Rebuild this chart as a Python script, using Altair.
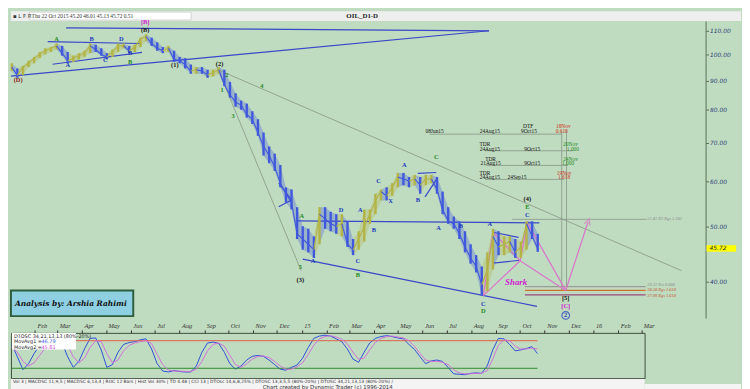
import altair as alt
import pandas as pd
import numpy as np

BG = "#c0dcc0"
BLUE = "#4058dc"
OLIVE = "#b2b446"
BLK = "#111111"
WBLUE = "#2038c0"
WGREEN = "#238a23"
DRED = "#8b1a1a"
MAG = "#d020d0"
RED = "#d03020"
GRAY = "#8c9c8c"
PINK = "#d878c8"

# ---------------- weekly price data (Fridays from 2014-01-03) ----------------
week_start = "2014-01-03"
close = [95, 92, 95, 96.5, 98.5, 100, 101.5, 102.5, 103.5, 100.5,
         97.5, 98.5, 99.5, 100.5, 103.5, 102, 100, 99, 101, 103.5,
         103.5, 101.5, 103, 106.5, 107.5, 104.5, 102.5, 101.5, 102.5, 98,
         97.5, 96, 93.5, 94, 93.5, 92, 93, 94, 88.5, 85,
         82.5, 81.5, 78.5, 77, 73, 69, 66.5, 63.5, 59.5, 57,
         55, 48.5, 47.5, 46.5, 45.5, 52.5, 51.5, 50.5, 50, 50.5,
         46.5, 45.5, 47.5, 50, 52.5, 55.5, 57.5, 56.5, 58.5, 61,
         60.5, 60, 60.5, 59, 60.5, 60.5, 58, 53.5, 51, 50.5,
         48.5, 46, 44, 42.5, 39.5, 42, 48, 46, 46.5, 47,
         45, 46, 50.5, 48, 45.72]
high = [96.5, 94.5, 95.5, 97.5, 99, 101, 102.5, 103, 104.5, 103.5,
        101, 99.5, 100.5, 101.5, 104.5, 104, 102.5, 100.5, 102, 104.5,
        104.5, 103.5, 104, 107, 108.5, 107, 105, 103, 103.5, 101.5,
        99, 98.5, 96, 95, 95, 94, 94, 95, 94, 89.5,
        85.5, 83, 82, 79.5, 77, 73, 69, 67, 64, 58.5,
        58, 54, 50, 49.5, 48, 54, 54, 53, 52.5, 52.5,
        51, 47.5, 49, 53.5, 53.5, 57, 58, 58.5, 59.5, 62,
        62, 61, 61.5, 61, 61.5, 61.5, 61, 57.5, 54, 52,
        51, 49, 46.5, 44.5, 42.5, 45, 49.5, 49, 48, 48,
        47.5, 47, 51, 51, 48.5]
low = [93.5, 91, 92, 95, 96.5, 98.5, 100, 101, 102, 99.5,
       96.5, 97, 98, 99, 100.5, 101, 99.5, 98, 99, 101,
       102.5, 100.5, 101, 103, 105.5, 103.5, 101.5, 100.5, 101, 97,
       96.5, 94.5, 92.5, 92.5, 92.5, 91, 91.5, 92.5, 88, 84,
       81, 80, 77.5, 75.5, 72, 66.5, 64.5, 62.5, 58.5, 55,
       53.5, 47.5, 45.5, 45, 44, 46.5, 49.5, 49, 48.5, 48,
       46, 44.5, 45.5, 47, 50.5, 52.5, 55.5, 55.5, 56.5, 58.5,
       59, 58.5, 59, 57, 59, 59.5, 57, 52.5, 50.5, 49.5,
       47.5, 45, 43, 41.5, 37.8, 38.5, 42, 44.5, 44.5, 45,
       44, 44, 45.5, 47.5, 45.1]
# DT oscillator 34,21,13,13: fast line and its moving average
osc_fast = [73, 45, 17, 30, 52, 70, 82, 88, 90, 75,
            45, 22, 35, 62, 85, 86, 60, 22, 28, 55,
            72, 76, 78, 82, 84, 62, 30, 14, 12, 15,
            13, 12, 12, 25, 55, 75, 77, 74, 55, 30,
            18, 25, 38, 46, 48, 46, 38, 28, 18, 16,
            22, 27, 42, 65, 85, 90, 92, 90, 84, 78,
            62, 40, 33, 55, 75, 85, 89, 91, 89, 86,
            84, 72, 61, 45, 30, 36, 38, 35, 22, 8,
            7, 6, 9, 10, 9, 25, 60, 85, 84, 72,
            58, 60, 63, 67, 52]
osc_slow = [65, 55, 35, 25, 32, 48, 65, 78, 85, 85,
            70, 45, 32, 42, 65, 80, 78, 52, 32, 38,
            58, 70, 75, 78, 80, 74, 50, 28, 16, 14,
            14, 13, 13, 18, 35, 58, 72, 75, 68, 48,
            28, 22, 30, 40, 46, 47, 43, 35, 25, 18,
            18, 23, 32, 50, 70, 84, 89, 91, 88, 83,
            73, 55, 40, 42, 60, 76, 85, 89, 90, 88,
            86, 80, 68, 52, 38, 35, 35, 33, 28, 17,
            10, 8, 8, 9, 9, 15, 40, 70, 82, 80,
            68, 62, 62, 64, 62]

dates = pd.date_range(week_start, periods=len(close), freq="7D")
bars = pd.DataFrame({"date": dates, "close": close, "high": high, "low": low,
                     "fast": osc_fast, "slow": osc_slow})
bars["dir"] = np.where(bars["close"].diff().fillna(0) >= 0, "up", "down")
bars["run"] = (bars["dir"] != bars["dir"].shift()).cumsum()
# join consecutive runs so that the coloured band is continuous
pieces = []
for r, g in bars.groupby("run"):
    i0 = g.index[0]
    if i0 > 0:
        prev = bars.loc[[i0 - 1]].copy()
        prev["run"] = r
        prev["dir"] = g["dir"].iloc[0]
        g = pd.concat([prev, g])
    pieces.append(g)
band = pd.concat(pieces, ignore_index=True)

# ---------------- trend lines ----------------
blue_lines = [
    ("L1", "2014-01-02", 91.6), ("L1", "2015-08-23", 110.0),
    ("L2", "2014-03-12", 111.3), ("L2", "2015-08-23", 110.0),
    ("L3", "2014-02-17", 105.3), ("L3", "2014-06-12", 104.5),
    ("L4", "2014-02-23", 96.1), ("L4", "2014-06-15", 100.8),
    ("L5", "2014-12-24", 51.1), ("L5", "2015-10-25", 50.7),
    ("L6", "2015-01-02", 43.8), ("L6", "2015-10-22", 36.2),
    ("L7", "2014-12-03", 59.5), ("L7", "2014-12-19", 55.6),
    ("L8", "2014-12-03", 54.1), ("L8", "2014-12-19", 55.6),
    ("L9", "2015-05-26", 61.9), ("L9", "2015-06-18", 62.1),
    ("L10", "2015-06-04", 56.3), ("L10", "2015-06-19", 60.6),
    ("L11", "2015-08-28", 48.8), ("L11", "2015-09-29", 47.8),
    ("L12", "2015-08-28", 43.1), ("L12", "2015-10-01", 43.6),
]
gray_lines = [
    ("G1", "2014-09-17", 95.0), ("G1", "2014-12-31", 41.8),
    ("G2", "2014-09-18", 94.0), ("G2", "2016-04-20", 41.8),
    ("G3", "2015-09-21", 51.42), ("G3", "2016-03-07", 51.42),
    ("G4", "2015-11-22", 73.4), ("G4", "2015-11-22", 38.6),
    ("G5", "2015-11-28", 73.4), ("G5", "2015-11-28", 38.6),
    ("G6", "2015-06-10", 72.5), ("G6", "2015-11-22", 72.5),
    ("G7", "2015-08-18", 67.8), ("G7", "2015-12-06", 67.8),
    ("G8", "2015-08-19", 63.9), ("G8", "2015-11-30", 63.9),
    ("G9", "2015-08-18", 60.4), ("G9", "2015-11-25", 60.4),
]
level_lines = [
    ("V1", "2015-10-07", 39.2, "#9a9a9a"), ("V1", "2016-03-06", 39.2, "#9a9a9a"),
    ("V2", "2015-10-07", 38.6, "#d07030"), ("V2", "2016-03-06", 38.6, "#d07030"),
    ("V3", "2015-10-07", 37.9, "#9a4a7a"), ("V3", "2016-03-06", 37.9, "#9a4a7a"),
]
# shark projection X-A-B-C-D and target
shark_pts = {"X": ("2015-08-16", 37.8), "A": ("2015-08-28", 48.8),
             "B": ("2015-10-01", 43.5), "C": ("2015-10-10", 50.7),
             "D": ("2015-11-27", 38.6), "E": ("2015-12-25", 50.9)}
shark_segs = [("X", "A"), ("A", "B"), ("B", "C"), ("C", "D"), ("X", "B"), ("B", "D"), ("D", "E")]

# ---------------- labels ----------------
wave_labels = [
    ("(D)", "2014-01-11", 90.2, DRED), ("A", "2014-02-28", 106.6, WGREEN),
    ("A", "2014-03-14", 95.7, WBLUE), ("B", "2014-04-13", 106.6, WBLUE),
    ("C", "2014-04-30", 97.6, WBLUE), ("D", "2014-05-20", 106.6, WBLUE),
    ("B", "2014-05-31", 100.5, WBLUE), ("B", "2014-05-31", 97.0, WGREEN),
    ("(B)", "2014-06-19", 110.4, BLK), ("[B]", "2014-06-19", 114.0, MAG),
    ("(1)", "2014-07-26", 95.7, BLK), ("(2)", "2014-09-20", 96.3, BLK),
    ("2", "2014-09-29", 92.0, WGREEN), ("1", "2014-09-23", 86.7, WGREEN),
    ("3", "2014-10-07", 77.9, WGREEN), ("4", "2014-11-12", 88.1, WGREEN),
    ("5", "2014-12-30", 42.4, WGREEN), ("(3)", "2014-12-30", 40.3, BLK),
    ("A", "2015-01-01", 52.2, WGREEN), ("A", "2015-01-15", 43.4, WBLUE),
    ("D", "2015-02-19", 53.4, WBLUE), ("A", "2015-03-15", 53.4, WBLUE),
    ("C", "2015-03-12", 43.5, WBLUE), ("B", "2015-03-12", 41.1, WGREEN),
    ("B", "2015-04-01", 49.3, WBLUE), ("C", "2015-04-07", 59.9, WBLUE),
    ("X", "2015-04-22", 55.4, WBLUE), ("A", "2015-05-09", 63.9, WBLUE),
    ("B", "2015-05-26", 55.6, WBLUE), ("C", "2015-06-18", 66.2, WGREEN),
    ("A", "2015-06-21", 49.7, WBLUE), ("B", "2015-07-19", 50.1, WBLUE),
    ("A", "2015-08-24", 50.4, WBLUE), ("C", "2015-08-16", 36.6, WBLUE),
    ("D", "2015-08-16", 35.5, WGREEN), ("(4)", "2015-10-10", 55.8, BLK),
    ("E", "2015-10-10", 54.1, WGREEN), ("C", "2015-10-10", 52.4, WBLUE),
    ("[5]", "2015-11-27", 37.4, BLK), ("[C]", "2015-11-27", 36.2, MAG),
    ("2", "2015-11-27", 34.9, WBLUE),
]
cycle_labels = [
    ("DTF", "2015-10-11", 74.9, BLK), ("18Nov", "2015-11-24", 74.9, RED),
    ("08Jun15", "2015-06-16", 73.4, BLK), ("24Aug15", "2015-08-24", 73.4, BLK),
    ("9Oct15", "2015-10-12", 73.4, BLK), ("0.618", "2015-11-22", 73.4, RED),
    ("TDR", "2015-08-18", 69.7, BLK), ("20Nov", "2015-12-03", 69.7, WGREEN),
    ("24Aug15", "2015-08-24", 68.3, BLK), ("9Oct15", "2015-10-16", 68.3, BLK),
    ("1.000", "2015-12-06", 68.3, WGREEN),
    ("TDR", "2015-08-25", 65.7, BLK), ("24Nov", "2015-12-03", 65.7, WGREEN),
    ("21Aug15", "2015-08-25", 64.4, BLK), ("9Oct15", "2015-10-16", 64.4, BLK),
    ("1.000", "2015-11-30", 64.4, WGREEN),
    ("TDR", "2015-08-18", 62.1, BLK), ("19Nov", "2015-11-25", 62.1, RED),
    ("24Aug15", "2015-08-24", 60.9, BLK), ("24Sep15", "2015-09-27", 60.9, BLK),
    ("1.618", "2015-11-25", 60.9, RED),
]
level_labels = [
    ("51.42 R3 Rgs 1.382", "2016-03-08", 51.42, "#8a8a8a"),
    ("39.22 Rst 0.886", "2016-03-08", 39.5, "#8a8a8a"),
    ("38.58 Rgs 1.618", "2016-03-08", 38.6, "#c05030"),
    ("37.90 Rgs 1.618", "2016-03-08", 37.7, "#c05030"),
]
price_ticks = [40, 50, 60, 70, 80, 90, 100, 110]
last_price = 45.72
month_ticks = pd.date_range("2014-02-01", "2016-03-01", freq="MS")

MAIN_DOMAIN = ["2014-01-02T00:00:00", "2016-05-20T00:00:00"]
OSC_DOMAIN = ["2014-01-02T00:00:00", "2016-03-05T00:00:00"]
PRICE_DOMAIN = [34.52, 114.44]
MW, MH = 706, 302
OW, OH = 644, 46

def lines_df(rows):
    df = pd.DataFrame(rows, columns=["id", "date", "price"] + (["color"] if len(rows[0]) > 3 else []))
    df["date"] = pd.to_datetime(df["date"])
    df["o"] = range(len(df))
    return df

def lab_df(rows):
    df = pd.DataFrame(rows, columns=["text", "date", "price", "color"])
    df["date"] = pd.to_datetime(df["date"])
    return df

price_axis = alt.Axis(orient="right", values=price_ticks, format=".2f", title=None,
                      labelFont="DejaVu Sans", labelFontStyle="italic", labelFontSize=6,
                      labelColor="#2b3d7a", domainColor="#587058", tickColor="#587058",
                      tickSize=3, labelPadding=1, grid=False)
PSCALE = alt.Scale(type="log", domain=PRICE_DOMAIN)
XM = lambda f="date": alt.X(f"{f}:T", scale=alt.Scale(domain=MAIN_DOMAIN), axis=None, title=None)
YM = lambda f="price": alt.Y(f"{f}:Q", scale=PSCALE, axis=price_axis, title=None)
DIRCOL = alt.Color("dir:N", scale=alt.Scale(domain=["up", "down"], range=[OLIVE, BLUE]), legend=None)

band_layer = alt.Chart(band).mark_area(opacity=0.3, interpolate="linear").encode(
    x=XM(), y=YM("low"), y2="high:Q", detail="run:N", color=DIRCOL)
bars_layer = alt.Chart(bars).mark_rule(strokeWidth=2.4).encode(
    x=XM(), y=YM("low"), y2="high:Q", color=DIRCOL)
close_layer = alt.Chart(band).mark_line(strokeWidth=1.1).encode(
    x=XM(), y=YM("close"), detail="run:N", color=DIRCOL)

blue_df = lines_df(blue_lines)
blue_layer = alt.Chart(blue_df).mark_line(color="#3848c8", strokeWidth=1.2).encode(
    x=XM(), y=YM(), detail="id:N", order="o:Q")
gray_df = lines_df(gray_lines)
gray_layer = alt.Chart(gray_df).mark_line(color=GRAY, strokeWidth=0.9).encode(
    x=XM(), y=YM(), detail="id:N", order="o:Q")
lvl_df = lines_df(level_lines)
lvl_layer = alt.Chart(lvl_df).mark_line(strokeWidth=1.2).encode(
    x=XM(), y=YM(), detail="id:N", order="o:Q", color=alt.Color("color:N", scale=None))

seg_rows = []
for i, (a, b) in enumerate(shark_segs):
    for p in (a, b):
        seg_rows.append(("S%d" % i, shark_pts[p][0], shark_pts[p][1]))
shark_df = lines_df(seg_rows)
shark_layer = alt.Chart(shark_df).mark_line(color=PINK, strokeWidth=1.3).encode(
    x=XM(), y=YM(), detail="id:N", order="o:Q")
arrow_df = lab_df([("", shark_pts["E"][0], shark_pts["E"][1], PINK)])
arrow_layer = alt.Chart(arrow_df).mark_point(
    shape="M-1,1 L0,-1 L1,1", angle=18, size=40, filled=False, color=PINK, strokeWidth=1.3
).encode(x=XM(), y=YM())

wave_df = lab_df(wave_labels)
wave_layer = alt.Chart(wave_df).mark_text(font="Liberation Serif", fontWeight="bold", fontSize=6.5).encode(
    x=XM(), y=YM(), text="text:N", color=alt.Color("color:N", scale=None))
circle_df = lab_df([("", "2015-11-27", 34.9, WBLUE)])
circle_layer = alt.Chart(circle_df).mark_point(shape="circle", size=60, color=WBLUE, strokeWidth=1.2).encode(
    x=XM(), y=YM())
cyc_df = lab_df(cycle_labels)
cyc_layer = alt.Chart(cyc_df).mark_text(font="Liberation Serif", fontSize=5.5).encode(
    x=XM(), y=YM(), text="text:N", color=alt.Color("color:N", scale=None))
lvl_lab_df = lab_df(level_labels)
lvl_lab_layer = alt.Chart(lvl_lab_df).mark_text(font="Liberation Serif", fontStyle="italic", fontSize=4.5, align="left").encode(
    x=XM(), y=YM(), text="text:N", color=alt.Color("color:N", scale=None))
shark_lab = alt.Chart(lab_df([("Shark", "2015-09-26", 40.0, MAG)])).mark_text(
    font="Liberation Serif", fontStyle="italic", fontWeight="bold", fontSize=9).encode(
    x=XM(), y=YM(), text="text:N", color=alt.Color("color:N", scale=None))

box_df = pd.DataFrame({"date": pd.to_datetime(["2014-01-02"]), "date2": pd.to_datetime(["2014-06-04"]),
                       "price": [38.6], "price2": [34.8]})
box_layer = alt.Chart(box_df).mark_rect(fill="#8ecfe2", stroke="#2e5e3e", strokeWidth=2).encode(
    x=XM(), x2="date2:T", y=YM(), y2="price2:Q")
box_text = alt.Chart(lab_df([("Analysis by: Arshia Rahimi", "2014-03-18", 36.6, BLK)])).mark_text(
    font="DejaVu Serif", fontStyle="italic", fontWeight="bold", fontSize=7.6).encode(
    x=XM(), y=YM(), text="text:N", color=alt.Color("color:N", scale=None))

last_df = pd.DataFrame({"price": [last_price], "text": ["%.2f" % last_price]})
last_box = alt.Chart(last_df).mark_point(
    shape="M-1,-0.22 L1,-0.22 L1,0.22 L-1,0.22 Z", size=900, filled=True, color="#ffff00", opacity=1
).encode(x=alt.value(722), y=YM())
last_txt = alt.Chart(last_df).mark_text(fontSize=6, font="DejaVu Sans", fontStyle="italic", align="left", color="#223").encode(
    x=alt.value(710), y=YM(), text="text:N")

# header strip
hdr = pd.DataFrame({"a": [0]})
hdr_rect = alt.Chart(hdr).mark_rect(fill="#eeeeee").encode(
    x=alt.value(0), x2=alt.value(742), y=alt.value(-10), y2=alt.value(0))
hdr_box = alt.Chart(hdr).mark_rect(fill="#ffffff", stroke="#b0b0b0", strokeWidth=0.5).encode(
    x=alt.value(19), x2=alt.value(183), y=alt.value(-9), y2=alt.value(-1))
hdr_l = alt.Chart(hdr).mark_text(fontSize=5.5, font="DejaVu Sans", align="left", color="#333").encode(
    x=alt.value(2), y=alt.value(-5), text=alt.value("▪ L  F  R"))
hdr_info = alt.Chart(hdr).mark_text(fontSize=5.5, font="Liberation Serif", align="left", color="#333").encode(
    x=alt.value(21), y=alt.value(-5), text=alt.value("Thu 22 Oct 2015    45.20    46.01    45.13    45.72    0.51"))
hdr_title = alt.Chart(hdr).mark_text(fontSize=7, font="Liberation Serif", fontWeight="bold", color="#222").encode(
    x=alt.value(357), y=alt.value(-5), text=alt.value("OIL_D1-D"))

main = alt.layer(
    band_layer, hdr_rect, hdr_box, hdr_l, hdr_info, hdr_title,
    gray_layer, lvl_layer, blue_layer, shark_layer, arrow_layer,
    bars_layer, close_layer,
    wave_layer, circle_layer, cyc_layer, lvl_lab_layer, shark_lab,
    box_layer, box_text, last_box, last_txt,
).properties(width=MW, height=MH, view=alt.ViewBackground(stroke=None))

# ---------------- oscillator ----------------
month_axis = alt.Axis(orient="top", values=[alt.DateTime(year=d.year, month=d.month, date=1) for d in month_ticks],
                      labelExpr="month(datum.value) == 0 ? timeFormat(datum.value, '%y') : timeFormat(datum.value, '%b')",
                      labelAlign="left", labelOffset=2, labelPadding=1, labelFont="Liberation Serif",
                      labelFontStyle="italic", labelFontSize=6.5, labelColor="#333", tickSize=3,
                      tickColor="#333", domain=False, grid=False, title=None)
OSCALE = alt.Scale(domain=[-1.4, 97])
XO = lambda f="date": alt.X(f"{f}:T", scale=alt.Scale(domain=OSC_DOMAIN), axis=month_axis, title=None)
YO = lambda f: alt.Y(f"{f}:Q", scale=OSCALE, axis=None, title=None)

fast_layer = alt.Chart(bars).mark_line(color="#2f4fd8", strokeWidth=1).encode(x=XO(), y=YO("fast"))
slow_layer = alt.Chart(bars).mark_line(color="#d070d8", strokeWidth=1).encode(x=XO(), y=YO("slow"))
lv = pd.DataFrame({"date": [dates[0], dates[0]], "date2": [dates[-1], dates[-1]],
                   "lvl": [80, 20], "c": ["#e0604a", "#2e8b2e"]})
lv_layer = alt.Chart(lv).mark_rule(strokeWidth=1).encode(
    x=XO(), x2="date2:T", y=YO("lvl"), color=alt.Color("c:N", scale=None))
leg_rect = alt.Chart(hdr).mark_rect(fill="white").encode(
    x=alt.value(1), x2=alt.value(66), y=alt.value(0), y2=alt.value(17))
leg_t1 = alt.Chart(hdr).mark_text(fontSize=5, font="DejaVu Sans", align="left", color="#222").encode(
    x=alt.value(3), y=alt.value(3), text=alt.value("DTOSC 34,21,13,13 (80%-20%)"))
leg_t2 = alt.Chart(hdr).mark_text(fontSize=5, font="DejaVu Sans", align="left", color="#222").encode(
    x=alt.value(3), y=alt.value(8.5), text=alt.value("MovAvg1 ="))
leg_t3 = alt.Chart(hdr).mark_text(fontSize=5, font="DejaVu Sans", align="left", color="#222").encode(
    x=alt.value(3), y=alt.value(14), text=alt.value("MovAvg2 ="))
leg_v1 = alt.Chart(hdr).mark_text(fontSize=5, font="DejaVu Sans", align="left", color="#2f4fd8").encode(
    x=alt.value(31), y=alt.value(8.5), text=alt.value("46.79"))
leg_v2 = alt.Chart(hdr).mark_text(fontSize=5, font="DejaVu Sans", align="left", color="#d040d8").encode(
    x=alt.value(31), y=alt.value(14), text=alt.value("45.81"))
foot_rect = alt.Chart(hdr).mark_rect(fill="#f4f4f4").encode(
    x=alt.value(0), x2=alt.value(644), y=alt.value(47), y2=alt.value(62))
foot_rect2 = alt.Chart(hdr).mark_rect(fill="#f4f4f4").encode(
    x=alt.value(644), x2=alt.value(742), y=alt.value(52), y2=alt.value(62))
foot_tabs = alt.Chart(hdr).mark_text(fontSize=4.5, font="DejaVu Sans", align="left", color="#333").encode(
    x=alt.value(2), y=alt.value(50),
    text=alt.value("Vol 3 | MACDSC 11,9,5 | MACDSC 6,13,4 | ROC 12 Bars | Hist Vol 30% | TD 4.48 | CCI 13 | DTOsc 14,6,8,25% | DTOSC 13,3,5,5 (80%-20%) | DTOSC 34,21,13,13 (80%-20%) /"))
foot_txt = alt.Chart(hdr).mark_text(fontSize=5.5, font="DejaVu Sans", color="#333").encode(
    x=alt.value(322), y=alt.value(55), text=alt.value("Chart created by Dynamic Trader  (c) 1996-2014"))

osc = alt.layer(
    fast_layer, foot_rect, foot_rect2, foot_tabs, foot_txt, lv_layer, slow_layer,
    leg_rect, leg_t1, leg_t2, leg_t3, leg_v1, leg_v2
).properties(width=OW, height=OH, view=alt.ViewBackground(stroke="#3d4d3d", strokeWidth=1))

chart = alt.vconcat(main, osc, spacing=0).properties(padding=0, background=BG)

chart.save("out.html", embed_options={"renderer": "svg", "actions": False})
